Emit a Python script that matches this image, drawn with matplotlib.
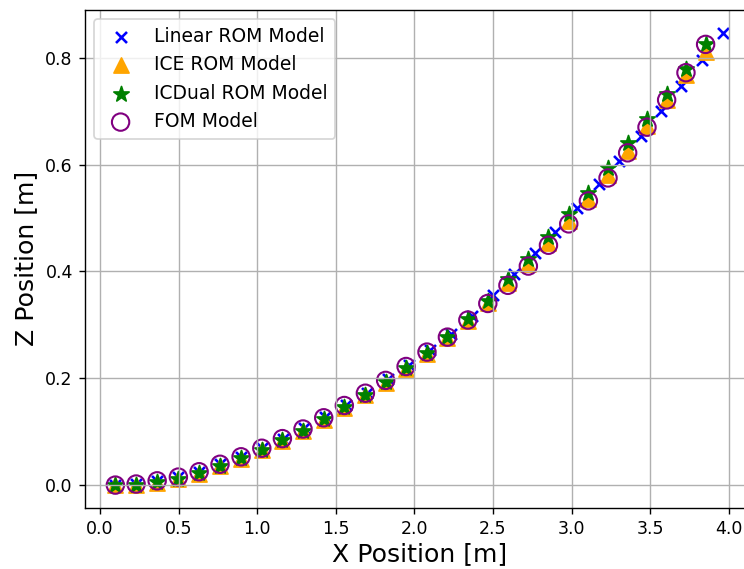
import matplotlib
matplotlib.use('Agg')
import matplotlib.pyplot as plt

# Posiciones
x_fom = [0.097, 0.229, 0.363, 0.498, 0.630, 0.763, 0.897, 1.029, 1.160, 1.291,
         1.423, 1.554, 1.688, 1.817, 1.947, 2.080, 2.210, 2.340, 2.467, 2.595,
         2.725, 2.853, 2.982, 3.107, 3.232, 3.357, 3.480, 3.605, 3.728, 3.853]
z_fom = [0.000, 0.002, 0.008, 0.015, 0.025, 0.039, 0.053, 0.069, 0.087, 0.105,
         0.126, 0.149, 0.172, 0.196, 0.222, 0.249, 0.277, 0.309, 0.340, 0.374,
         0.410, 0.449, 0.489, 0.532, 0.575, 0.622, 0.670, 0.721, 0.772, 0.825]

x_linear = [0.097, 0.231, 0.364, 0.498, 0.631, 0.765, 0.898, 1.032, 1.165, 1.299,
            1.432, 1.566, 1.699, 1.833, 1.966, 2.100, 2.233, 2.367, 2.498, 2.634,
            2.767, 2.896, 3.032, 3.173, 3.302, 3.440, 3.569, 3.696, 3.832, 3.965]
z_linear = [0.000, 0.002, 0.008, 0.015, 0.025, 0.039, 0.053, 0.069, 0.087, 0.106,
            0.127, 0.150, 0.173, 0.199, 0.225, 0.253, 0.283, 0.317, 0.356, 0.395,
            0.434, 0.474, 0.518, 0.563, 0.607, 0.654, 0.701, 0.748, 0.795, 0.847]

x_ice = x_fom
z_ice = [0.000, 0.000, 0.004, 0.011, 0.021, 0.035, 0.049, 0.065, 0.083, 0.101,
         0.122, 0.145, 0.168, 0.192, 0.218, 0.246, 0.275, 0.308, 0.341, 0.378,
         0.414, 0.453, 0.494, 0.536, 0.580, 0.626, 0.673, 0.720, 0.767, 0.810]

x_icdual = x_fom
z_icdual = [0.000, 0.000, 0.005, 0.012, 0.022, 0.036, 0.050, 0.066, 0.084, 0.102,
            0.123, 0.146, 0.169, 0.193, 0.219, 0.248, 0.277, 0.311, 0.345, 0.385,
            0.424, 0.465, 0.507, 0.546, 0.594, 0.640, 0.686, 0.732, 0.778, 0.826]


def graficar():
    fig = plt.figure(figsize=(744 / 125, 569 / 125), dpi=125)
    # el eje derecho queda fuera de la imagen, como en la original recortada
    ax = fig.add_axes([0.1142, 0.1077, 0.8987, 0.8747])
    ax.scatter(x_linear, z_linear, marker='x', color='blue', s=40, label='Linear ROM Model')
    ax.scatter(x_ice, z_ice, marker='^', color='orange', s=75, label='ICE ROM Model')
    ax.scatter(x_icdual, z_icdual, marker='*', color='green', s=85, label='ICDual ROM Model')
    ax.scatter(x_fom, z_fom, marker='o', facecolors='none', edgecolors='purple',
               s=100, linewidths=1.2, label='FOM Model')
    ax.set_xlabel('X Position [m]', fontsize=14.5, labelpad=2.5)
    ax.set_ylabel('Z Position [m]', fontsize=14.5)
    ax.set_xticks([0.0, 0.5, 1.0, 1.5, 2.0, 2.5, 3.0, 3.5, 4.0])
    ax.set_yticks([0.0, 0.2, 0.4, 0.6, 0.8])
    ax.legend(loc='upper left', fontsize=10.8)
    ax.grid(True)
    fig.savefig('out.png', dpi=125)


if __name__ == '__main__':
    graficar()
